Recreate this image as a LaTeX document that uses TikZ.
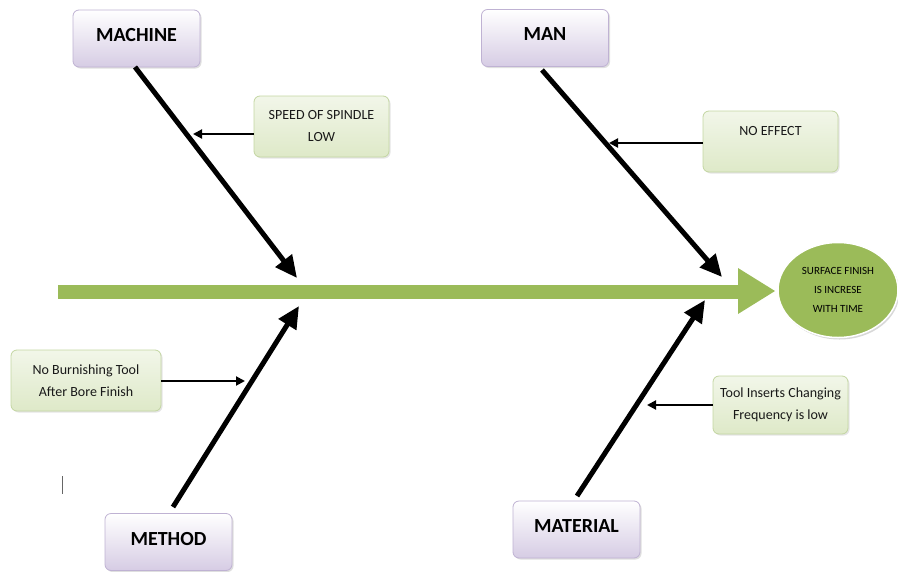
\documentclass[tikz,border=0pt]{standalone}
\usepackage{fontspec}
\setmainfont{Carlito}
\usetikzlibrary{arrows.meta,shadows,shapes.geometric}
\definecolor{catbot}{HTML}{D6CCE4}
\definecolor{catdraw}{HTML}{BFB2D3}
\definecolor{cbot}{HTML}{DEE9C8}
\definecolor{cdraw}{HTML}{C3D6A2}
\definecolor{spine}{HTML}{9BBB59}
\tikzset{
  catbox/.style={rounded corners=6pt, draw=catdraw, line width=0.8pt,
    top color=white, bottom color=catbot, minimum width=127pt, minimum height=57pt,
    text depth=7pt,
    font=\fontsize{20}{24}\selectfont\bfseries, text=black,
    drop shadow={shadow xshift=1.5pt, shadow yshift=-1.5pt, fill=black!25}},
  causebox/.style={rounded corners=6pt, draw=cdraw, line width=0.8pt,
    top color=white!60!cbot, bottom color=cbot, minimum width=135pt, minimum height=61pt,
    align=center, font=\fontsize{14}{22}\selectfont, text=black!90,
    drop shadow={shadow xshift=1.5pt, shadow yshift=-1.5pt, fill=black!20}},
  bone/.style={line width=5pt, -{Triangle[length=22pt,width=20pt]}},
  twig/.style={line width=2pt, -{Triangle[length=9pt,width=9pt]}},
}
\begin{document}
\begin{tikzpicture}[x=1pt,y=-1pt]
\useasboundingbox (0,0) rectangle (898,571);
% spine
\coordinate (sp0) at (58,292);
\coordinate (sp1) at (738,292);
\fill[spine] (58,285) rectangle (739,299);
\fill[spine] (738,268) -- (775,291) -- (738,314) -- cycle;
% effect
\node[ellipse, fill=spine, draw=white, line width=1.5pt, minimum width=120pt, minimum height=95pt,
  align=center, font=\fontsize{11}{19}\selectfont, text=black,
  drop shadow={shadow xshift=1.5pt, shadow yshift=-2pt, fill=black!30}] (eff) at (838,290)
  {SURFACE FINISH\\IS INCRESE\\WITH TIME};
% categories
\node[catbox] (mach) at (136.5,38.5) {MACHINE};
\node[catbox] (man) at (545,38) {MAN};
\node[catbox] (meth) at (168.5,542) {METHOD};
\node[catbox] (mat) at (576.5,529.5) {MATERIAL};
% causes
\node[causebox] (c1) at (321.5,126.5) {SPEED OF SPINDLE\\LOW};
\node[causebox] (c2) at (770.5,141.5) {NO EFFECT\\\mbox{}};
\node[causebox, minimum width=150pt] (c3) at (86,380.5) {No Burnishing Tool\\After Bore Finish};
\node[causebox, minimum height=58pt] (c4) at (780.5,405) {Tool Inserts Changing\\Frequency is low};
% bone coordinates
\coordinate (m1s) at (135,67);
\coordinate (m1e) at (297,278);
\coordinate (m2s) at (542,70);
\coordinate (m2e) at (722,277);
\coordinate (m3s) at (173,507);
\coordinate (m3e) at (299,306);
\coordinate (m4s) at (577,496);
\coordinate (m4e) at (705,300);
\draw[bone] (m1s) -- (m1e);
\draw[bone] (m2s) -- (m2e);
\draw[bone] (m3s) -- (m3e);
\draw[bone] (m4s) -- (m4e);
% twigs
\coordinate (t1) at (193,134);
\coordinate (t2) at (609,143);
\coordinate (t3) at (245,381);
\coordinate (t4) at (647,405);
\draw[twig] (c1.west |- t1) -- (t1);
\draw[twig] (c2.west |- t2) -- (t2);
\draw[twig] (c3.east |- t3) -- (t3);
\draw[twig] (c4.west |- t4) -- (t4);
% stray cursor mark
\coordinate (cur0) at (62,476);
\coordinate (cur1) at (62,494);
\draw[black!60, line width=1pt] (cur0) -- (cur1);
\end{tikzpicture}
\end{document}
